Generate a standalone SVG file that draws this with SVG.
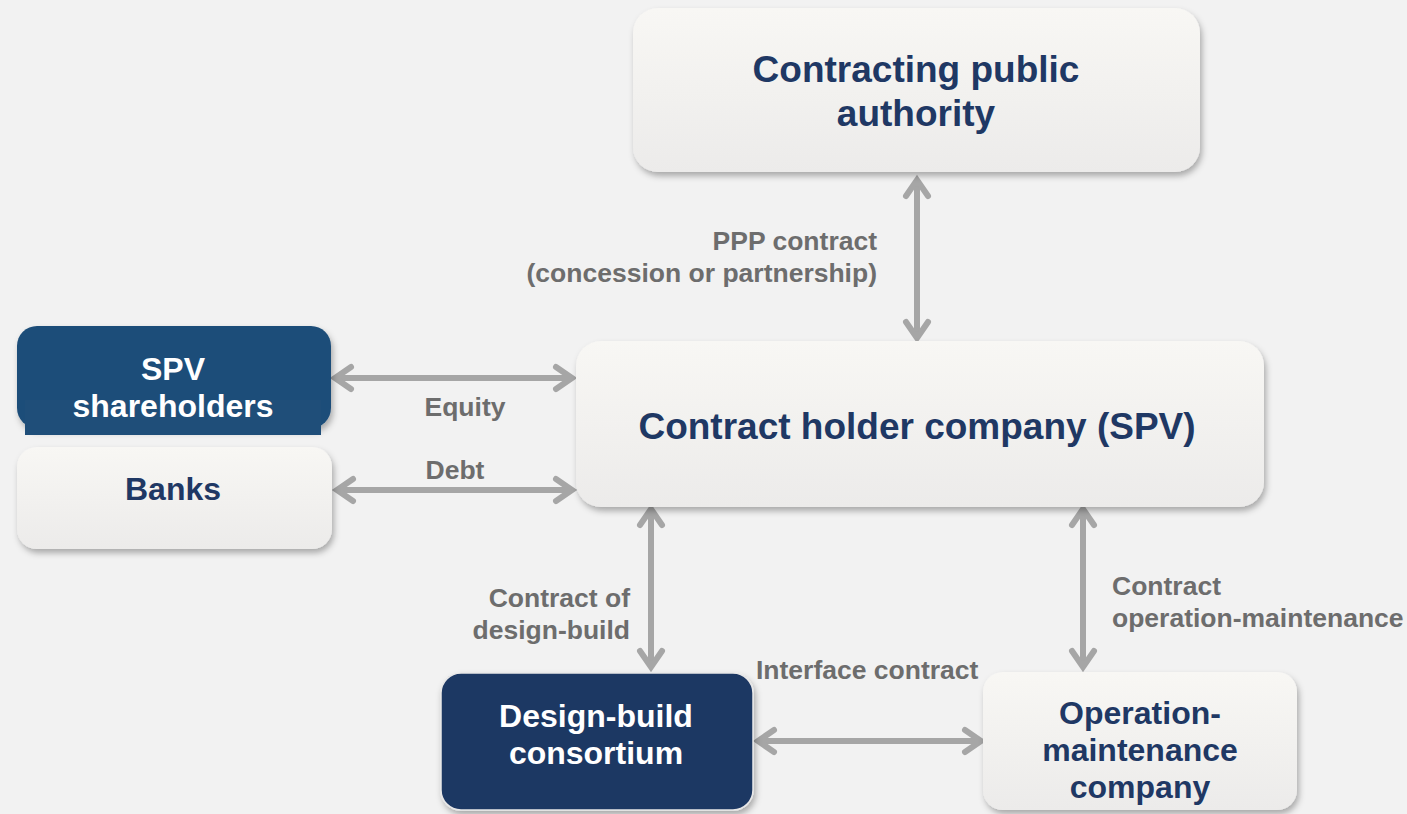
<svg xmlns="http://www.w3.org/2000/svg" width="1407" height="814" viewBox="0 0 1407 814">
<style>
.title{font-family:"Liberation Sans",Arial,sans-serif;font-weight:bold;fill:#1f3864;text-anchor:middle}
.big{font-size:37px}
.mid{font-size:32px}
.white{fill:#ffffff}
.lbl{font-family:"Liberation Sans",Arial,sans-serif;font-weight:bold;font-size:26.5px;fill:#6d6d6d}
.arrow{stroke:#a6a6a6;stroke-width:6;fill:none;marker-start:url(#ah);marker-end:url(#ah)}
.light{fill:url(#lg);filter:url(#sh)}
</style>
<defs>
<linearGradient id="lg" x1="0" y1="0" x2="0" y2="1">
<stop offset="0" stop-color="#f8f7f4"/>
<stop offset="1" stop-color="#ecebea"/>
</linearGradient>
<filter id="sh" x="-10%" y="-10%" width="125%" height="130%">
<feDropShadow dx="2" dy="4" stdDeviation="3" flood-color="#000" flood-opacity="0.3"/>
</filter>
<marker id="ah" markerUnits="userSpaceOnUse" markerWidth="30" markerHeight="30" viewBox="0 0 30 30" refX="22" refY="15" orient="auto-start-reverse">
<path d="M6 4 L22 15 L6 26" stroke="#a6a6a6" stroke-width="6" fill="none" stroke-linecap="round" stroke-linejoin="miter"/>
</marker>
</defs>
<rect width="1407" height="814" fill="#f2f2f2"/>
<g id="connectors">
<path class="arrow" d="M917 180 L917 338"/>
<path class="arrow" d="M335 378 L572 378"/>
<path class="arrow" d="M337 490 L572 490"/>
<path class="arrow" d="M651 509 L651 667"/>
<path class="arrow" d="M1083 509 L1083 667"/>
<path class="arrow" d="M758 741 L981 741"/>
</g>
<g id="labels">
<text class="lbl" x="877" y="250" text-anchor="end">PPP contract</text>
<text class="lbl" x="877" y="282" text-anchor="end">(concession or partnership)</text>
<text class="lbl" x="465" y="416" text-anchor="middle">Equity</text>
<text class="lbl" x="455" y="479" text-anchor="middle">Debt</text>
<text class="lbl" x="630" y="607" text-anchor="end">Contract of</text>
<text class="lbl" x="630" y="639" text-anchor="end">design-build</text>
<text class="lbl" x="1112" y="595">Contract</text>
<text class="lbl" x="1112" y="627">operation-maintenance</text>
<text class="lbl" x="756" y="679">Interface contract</text>
</g>
<g id="authority">
<rect class="light" x="633" y="8" width="567" height="164" rx="25"/>
<text class="title big" x="916" y="82">Contracting public</text>
<text class="title big" x="916" y="126">authority</text>
</g>
<g id="spv">
<rect class="light" x="576" y="341" width="688" height="166" rx="25"/>
<text class="title big" x="917" y="439">Contract holder company (SPV)</text>
</g>
<g id="shareholders">
<rect x="17" y="326" width="314" height="102" rx="20" fill="#1f4e79" filter="url(#sh)"/>
<rect x="25" y="400" width="296" height="35" fill="#1f4e79"/>
<text class="title mid white" x="173" y="380">SPV</text>
<text class="title mid white" x="173" y="417">shareholders</text>
</g>
<g id="banks">
<rect class="light" x="17" y="447" width="315" height="102" rx="20"/>
<text class="title mid" x="173" y="500">Banks</text>
</g>
<g id="designbuild">
<rect x="441" y="673" width="312" height="137" rx="20" fill="#1f3864" stroke="#e8e8e8" stroke-width="1.5" filter="url(#sh)"/>
<text class="title mid white" x="596" y="727">Design-build</text>
<text class="title mid white" x="596" y="764">consortium</text>
</g>
<g id="om">
<rect class="light" x="983" y="672" width="314" height="138" rx="20"/>
<text class="title mid" x="1140" y="724">Operation-</text>
<text class="title mid" x="1140" y="761">maintenance</text>
<text class="title mid" x="1140" y="798">company</text>
</g>
</svg>
